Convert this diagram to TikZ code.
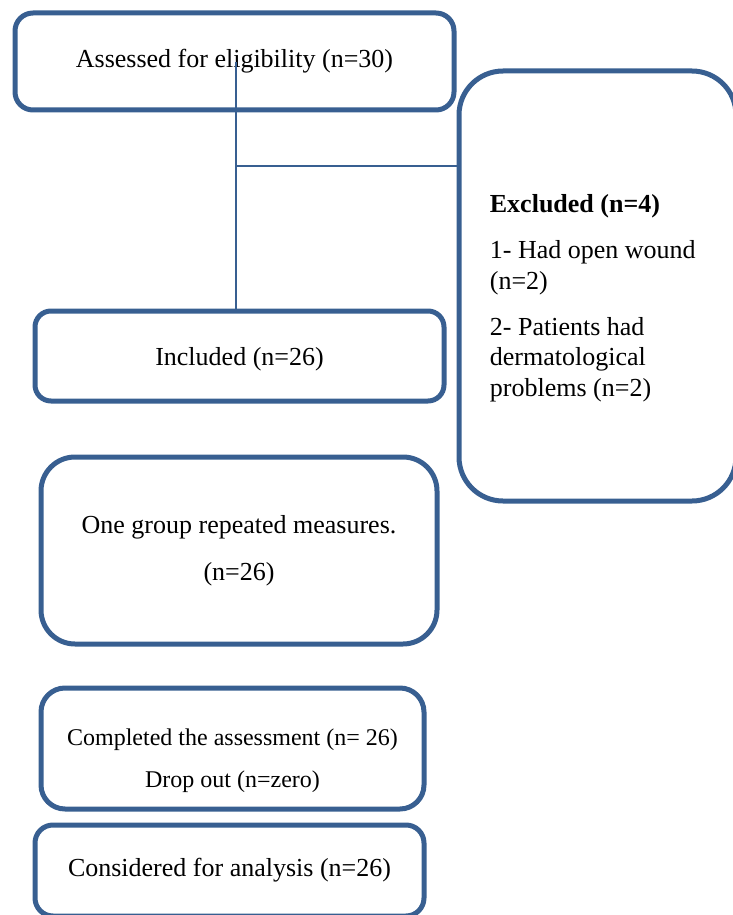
\documentclass[tikz,border=0pt]{standalone}
\usepackage{fontspec}
\setmainfont{Liberation Serif}
\definecolor{boxblue}{RGB}{56,95,145}
\begin{document}
\begin{tikzpicture}[x=0.5pt,y=-0.5pt,
  box/.style={draw=boxblue,line width=2.5pt,inner sep=0pt,align=center,font=\fontsize{13}{15.5}\selectfont},
  link/.style={draw=boxblue,line width=1pt}]
\useasboundingbox (0,0) rectangle (733,915);

% Boxes
\node[box,rounded corners=9pt,minimum width=219.5pt,minimum height=48.5pt] (assess) at (234.5,61.5) {Assessed for eligibility (n=30)};
\node[box,rounded corners=22pt,minimum width=138.5pt,minimum height=215pt] (excl) at (597.5,286) {};
\node[font=\fontsize{13}{15.25}\selectfont,align=left,anchor=north west,inner sep=0pt] (excltext) at ([shift={(33,126)}]excl.north west)
  {\textbf{Excluded (n=4)}\\[7.75pt]1- Had open wound\\(n=2)\\[7.75pt]2- Patients had\\dermatological\\problems (n=2)};
\node[box,rounded corners=8pt,minimum width=204.5pt,minimum height=45pt] (incl) at (239.5,356) {\rule{0pt}{12pt}Included (n=26)};
\node[box,rounded corners=17pt,minimum width=198pt,minimum height=93.5pt] (group) at (239,550.5) {One group repeated measures.\\[8pt](n=26)};
\node[box,rounded corners=12pt,minimum width=191.5pt,minimum height=60.5pt,font=\fontsize{12}{14}\selectfont] (compl) at (232.5,748.5) {\rule{0pt}{21pt}Completed the assessment (n= 26)\\[7pt]Drop out (n=zero)};
\node[box,rounded corners=9pt,minimum width=194.5pt,minimum height=45.5pt] (consid) at (229.5,870.5) {Considered for analysis (n=26)};

% Connectors
\coordinate (top) at (236,62);
\coordinate (split) at (236,166);
\draw[link] (top) -- (top |- incl.north);
\draw[link] (split) -- (split -| excl.west);

\end{tikzpicture}
\end{document}
